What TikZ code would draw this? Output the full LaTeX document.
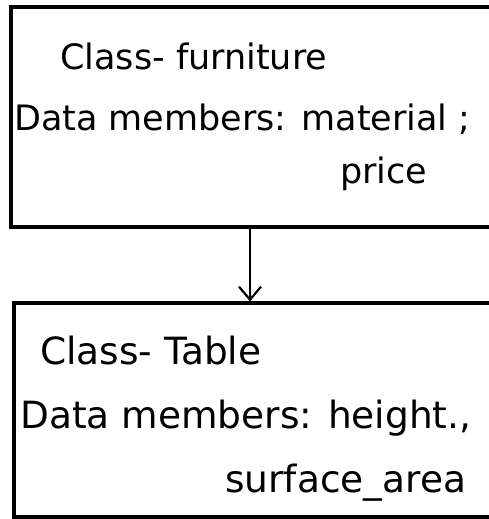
\documentclass[tikz,border=0pt]{standalone}
\usepackage{fontspec}
\setmainfont{DejaVu Sans}
\usetikzlibrary{arrows.meta}
\begin{document}
\begin{tikzpicture}[x=1pt, y=-1pt,
  classbox/.style={draw, line width=3.2pt, rectangle, inner sep=0pt},
  hand/.style={anchor=base west, inner sep=0pt, font=\fontsize{35}{40}\selectfont},
  handwide/.style={hand, font=\fontsize{37.5}{42}\selectfont},
  link/.style={line width=1.5pt, -{Straight Barb[length=13pt, width=22pt, line width=2.2pt]}}]
  \useasboundingbox (0,0) rectangle (489,519);
  \clip (0,0) rectangle (489,519);

  % class boxes (running past the right edge)
  \node[classbox, minimum width=500pt, minimum height=220pt] (furniture) at (261,117) {};
  \node[classbox, minimum width=500pt, minimum height=214pt] (table) at (264,410) {};

  % inheritance arrow
  \coordinate (ax) at (250,0);
  \draw[link] (ax |- furniture.south) -- (ax |- table.north);

  % furniture class text
  \node[hand] (f1) at (60,70) {Class- furniture};
  \node[hand] (f2) at (14,130) {Data members: material ;};
  \node[hand] (f3) at (340,183) {price};

  % table class text
  \node[handwide] (t1) at (40,364) {Class- Table};
  \node[handwide] (t2) at (20,428) {Data members: height.,};
  \node[handwide] (t3) at (225,492) {surface\_area};
\end{tikzpicture}
\end{document}
